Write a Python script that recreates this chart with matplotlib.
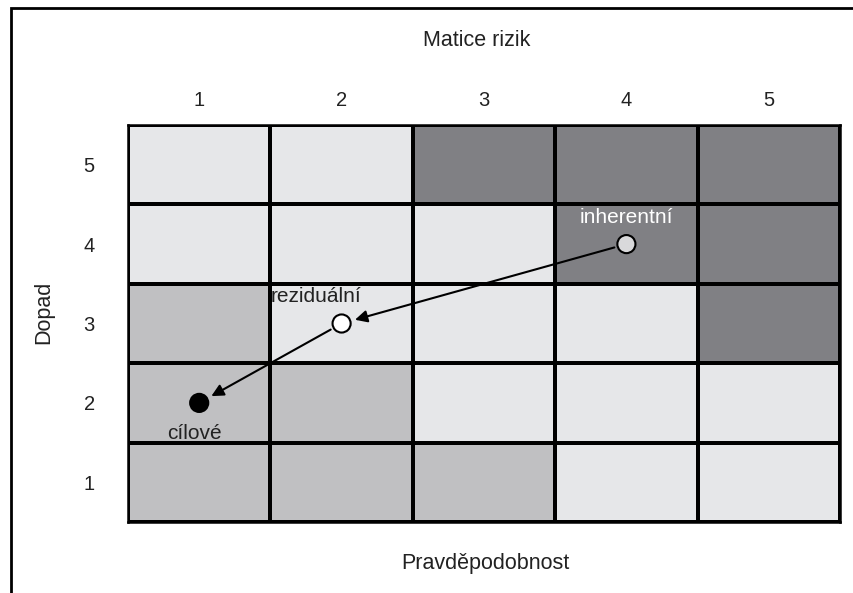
import matplotlib.pyplot as plt
import matplotlib.patches as patches
from matplotlib.colors import ListedColormap
import numpy as np

plt.rcParams['font.family'] = ['Liberation Sans', 'DejaVu Sans']

# risk levels per cell, rows from impact 1 (bottom) to 5 (top), columns probability 1..5
# 0 = low (light), 1 = medium, 2 = high (dark)
levels = [
    [1, 1, 1, 0, 0],  # impact 1
    [1, 1, 0, 0, 0],  # impact 2
    [1, 0, 0, 0, 2],  # impact 3
    [0, 0, 0, 2, 2],  # impact 4
    [0, 0, 2, 2, 2],  # impact 5
]
prob_labels = ['1', '2', '3', '4', '5']
impact_labels = ['1', '2', '3', '4', '5']

# risk points: (probability, impact)
point_names = ['inherentní', 'reziduální', 'cílové']
point_prob = [4, 2, 1]
point_impact = [4, 3, 2]
point_colors = ['#d9d9db', '#ffffff', '#000000']

colors = ListedColormap(['#e6e7e9', '#c0c0c2', '#808084'])

fig = plt.figure(figsize=(8.54, 5.93), dpi=100)
ax = fig.add_axes([128/854, 1 - 522/593, 712/854, 397/593])

ax.pcolormesh(np.arange(0.5, 6.5), np.arange(0.5, 6.5), np.array(levels),
              cmap=colors, vmin=0, vmax=2, edgecolors='black', linewidth=1.5)
ax.set_xlim(0.5, 5.5)
ax.set_ylim(0.5, 5.5)

ax.set_xticks(range(1, 6))
ax.set_xticklabels(prob_labels)
ax.set_yticks(range(1, 6))
ax.set_yticklabels(impact_labels)
ax.xaxis.tick_top()
ax.tick_params(length=0, labelsize=14.5, colors='#222222')
ax.tick_params(axis='x', pad=11)
ax.tick_params(axis='y', pad=24)
for spine in ax.spines.values():
    spine.set_linewidth(1.8)

# arrows between points
for i in range(len(point_prob) - 1):
    ax.annotate('', xy=(point_prob[i + 1], point_impact[i + 1]),
                xytext=(point_prob[i], point_impact[i]),
                arrowprops=dict(arrowstyle='-|>', color='black', lw=1.5,
                                mutation_scale=18, shrinkA=9, shrinkB=10))

ax.scatter(point_prob, point_impact, s=170, c=point_colors,
           edgecolors='black', linewidths=1.5, zorder=5)

ax.text(4.0, 4.34, point_names[0], color='white', fontsize=15,
        ha='center', va='center')
ax.text(1.5, 3.34, point_names[1], color='#222222', fontsize=15,
        ha='left', va='center')
ax.text(0.97, 1.62, point_names[2], color='#222222', fontsize=15,
        ha='center', va='center')

fig.text(477/854, 1 - 40/593, 'Matice rizik', fontsize=15.5,
         ha='center', va='center', color='#222222')
fig.text(485/854, 1 - 563/593, 'Pravděpodobnost', fontsize=15.5,
         ha='center', va='center', color='#222222')
fig.text(44/854, 1 - 312/593, 'Dopad', fontsize=15.5, rotation=90,
         ha='center', va='center', color='#222222')

# outer frame (cut off at the right and bottom)
fig.add_artist(patches.Rectangle((11/854, -0.1), 1.0, 1.1 - 8/593,
                                 transform=fig.transFigure, fill=False,
                                 edgecolor='black', linewidth=2))

plt.savefig('out.png', dpi=100)
